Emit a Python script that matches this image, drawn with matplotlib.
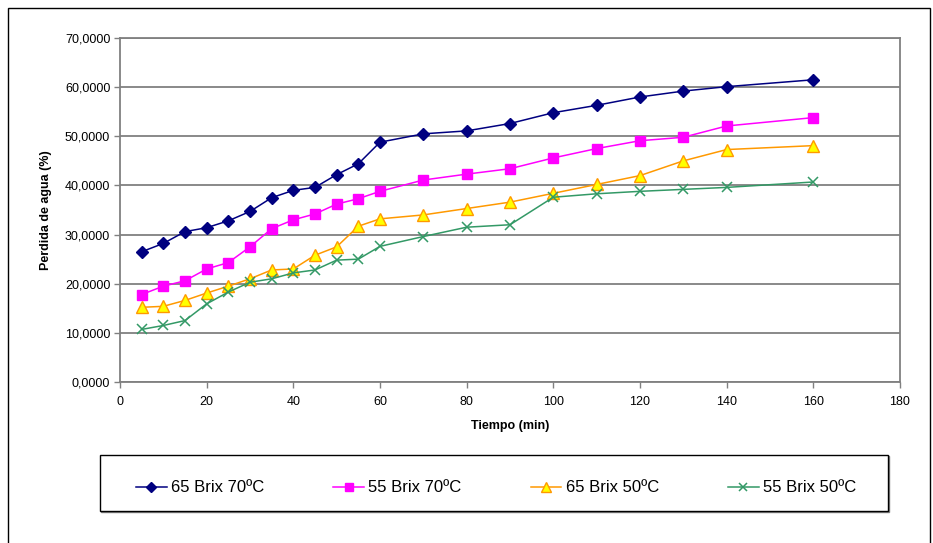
import numpy as np
import matplotlib
matplotlib.use("Agg")
import matplotlib.pyplot as plt
from matplotlib.patches import Rectangle
from matplotlib.ticker import FuncFormatter

plt.rcParams['font.family'] = ['Liberation Sans', 'DejaVu Sans']

# tiempo (min)
tiempo = [5, 10, 15, 20, 25, 30, 35, 40, 45, 50, 55, 60, 70, 80, 90, 100, 110, 120, 130, 140, 160]

# perdida de agua (%)
brix65_70 = [26.5, 28.2, 30.6, 31.4, 32.8, 34.7, 37.5, 39.0, 39.6, 42.2, 44.4, 48.8,
             50.5, 51.1, 52.6, 54.8, 56.3, 58.0, 59.2, 60.1, 61.5]
brix55_70 = [17.8, 19.5, 20.6, 23.0, 24.3, 27.5, 31.2, 33.0, 34.2, 36.2, 37.3, 38.8,
             41.1, 42.3, 43.4, 45.6, 47.5, 49.1, 49.8, 52.1, 53.8]
brix65_50 = [15.2, 15.4, 16.6, 18.1, 19.5, 21.0, 22.8, 23.0, 25.8, 27.5, 31.7, 33.2,
             34.0, 35.3, 36.6, 38.4, 40.2, 42.0, 45.0, 47.3, 48.1]
brix55_50 = [10.7, 11.5, 12.5, 15.9, 18.3, 20.3, 21.0, 22.2, 22.8, 24.8, 25.0, 27.6,
             29.6, 31.5, 32.0, 37.6, 38.3, 38.8, 39.2, 39.6, 40.7]

etiquetas = ['65 Brix 70ºC', '55 Brix 70ºC', '65 Brix 50ºC', '55 Brix 50ºC']

fig = plt.figure(figsize=(9.33, 5.43), dpi=100)
ax = fig.add_axes([0.1286, 0.2965, 0.836, 0.6335])

# marco exterior
fig.patches.append(Rectangle((8 / 933, -0.01), 922 / 933, 1 - 8 / 543 + 0.01,
                             transform=fig.transFigure, fill=False,
                             edgecolor='black', linewidth=1.0))
# caja de la leyenda (con sombra gris)
fig.patches.append(Rectangle((101 / 933, 1 - 512 / 543), 788 / 933, 56 / 543,
                             transform=fig.transFigure, fill=False,
                             edgecolor='#808080', linewidth=1.0))
fig.patches.append(Rectangle((100 / 933, 1 - 511 / 543), 788 / 933, 56 / 543,
                             transform=fig.transFigure, facecolor='white',
                             edgecolor='black', linewidth=1.0))

ax.plot(tiempo, brix65_70, color='#000080', marker='D', markersize=6.5,
        markerfacecolor='#000080', markeredgecolor='#000080', linewidth=1.1, label=etiquetas[0])
ax.plot(tiempo, brix55_70, color='#FF00FF', marker='s', markersize=7.5,
        markerfacecolor='#FF00FF', markeredgecolor='#FF00FF', linewidth=1.1, label=etiquetas[1])
ax.plot(tiempo, brix65_50, color='#FF9900', marker='^', markersize=9,
        markerfacecolor='#FFFF00', markeredgecolor='#FF9900', linewidth=1.1, label=etiquetas[2])
ax.plot(tiempo, brix55_50, color='#339966', marker='x', markersize=7,
        markeredgewidth=1.1, linewidth=1.1, label=etiquetas[3])

ax.set_xlim(0, 180)
ax.set_ylim(0, 70)
ax.set_xticks(np.arange(0, 181, 20))
ax.set_yticks(np.arange(0, 71, 10))
ax.yaxis.set_major_formatter(FuncFormatter(lambda v, p: ('%.4f' % v).replace('.', ',')))

ax.grid(axis='y', color='#808080', linewidth=1.3)
ax.set_axisbelow(True)
for s in ax.spines.values():
    s.set_color('#808080')
    s.set_linewidth(1.3)

ax.tick_params(axis='both', direction='out', length=4, color='#808080', width=1,
               labelsize=9, colors='black')
ax.tick_params(axis='x', pad=6)
ax.tick_params(axis='y', pad=3)

ax.set_xlabel('Tiempo (min)', fontsize=9, fontweight='bold', labelpad=9)
ax.set_ylabel('Perdida de agua (%)', fontsize=9, fontweight='bold', labelpad=9)

leg = fig.legend(loc='center', bbox_to_anchor=(496 / 933, 1 - 488 / 543),
                 ncol=4, fontsize=12, frameon=False, markerscale=0.85,
                 handlelength=1.85, handletextpad=0.25, columnspacing=4.15,
                 borderaxespad=0, borderpad=0)

fig.savefig('out.png', dpi=100)
